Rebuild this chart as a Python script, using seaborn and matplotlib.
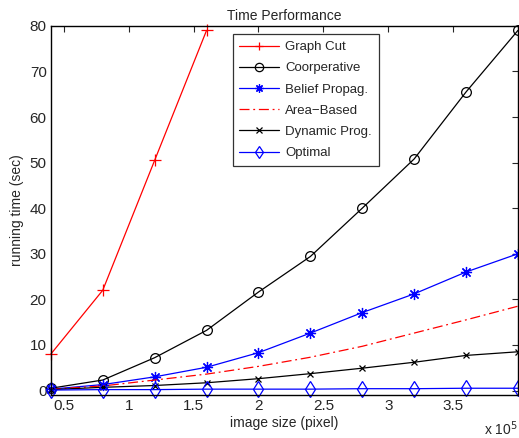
import numpy as np
import pandas as pd
import matplotlib
matplotlib.use("Agg")
import matplotlib.pyplot as plt
import seaborn as sns

# image size (x 10^5 pixel)
size = [0.4, 0.8, 1.2, 1.6, 2.0, 2.4, 2.8, 3.2, 3.6, 4.0]
size_gc = [0.4, 0.8, 1.2, 1.6]

graph_cut = [8.0, 22.0, 50.5, 79.0]
cooperative = [0.5, 2.3, 7.2, 13.2, 21.6, 29.4, 40.0, 50.8, 65.5, 79.0]
belief = [0.3, 1.3, 3.0, 5.1, 8.3, 12.6, 17.1, 21.2, 26.0, 30.0]
area_based = [0.3, 1.0, 2.3, 3.6, 5.3, 7.3, 9.7, 12.6, 15.5, 18.5]
dynamic = [0.2, 0.7, 1.1, 1.7, 2.6, 3.7, 4.9, 6.2, 7.7, 8.5]
optimal = [0.1, 0.2, 0.2, 0.3, 0.3, 0.3, 0.4, 0.4, 0.5, 0.5]

sns.set_style("white")
plt.rcParams['font.family'] = ['Liberation Sans', 'DejaVu Sans']
plt.rcParams['xtick.direction'] = 'in'
plt.rcParams['ytick.direction'] = 'in'

fig = plt.figure(figsize=(5.19, 4.38), dpi=100)
ax = fig.add_axes([0.098, 0.098, 0.900, 0.843])

asterisk = (8, 2, 0)
# label, x, y, color, marker, marker size, fill, linestyle
series = [
    ("Graph Cut", size_gc, graph_cut, "red", "+", 8, True, "-"),
    ("Coorperative", size, cooperative, "black", "o", 7, False, "-"),
    ("Belief Propag.", size, belief, "blue", asterisk, 8, True, "-"),
    ("Area\u2212Based", size, area_based, "red", "", 0, True, (0, (8, 3, 1.5, 3))),
    ("Dynamic Prog.", size, dynamic, "black", "x", 5, True, "-"),
    ("Optimal", size, optimal, "blue", "d", 8, False, "-"),
]

for label, xs, ys, col, mk, ms, fill, ls in series:
    x = np.array(xs) * 1e5
    sns.lineplot(x=x, y=ys, ax=ax, label=label, color=col, linewidth=0.9)
    ln = ax.lines[-1]
    ln.set_linestyle(ls)
    ln.set_clip_on(False)
    if mk:
        ln.set_marker(mk)
        ln.set_markersize(ms)
        ln.set_markeredgewidth(0.9)
        ln.set_markeredgecolor(col)
        ln.set_markerfacecolor(col if fill else "none")

ax.set_xlim(0.4e5, 4.0e5)
ax.set_ylim(-1, 80)
ax.set_xticks(np.arange(0.5, 4.0, 0.5) * 1e5)
ax.set_xticklabels(["0.5", "1", "1.5", "2", "2.5", "3", "3.5"])
ax.set_yticks(range(0, 81, 10))
ax.tick_params(labelsize=11, length=4, width=0.8, top=True, right=True, pad=3)
for s in ax.spines.values():
    s.set_linewidth(1.0)
    s.set_color("black")

ax.set_title("Time Performance", fontsize=10, pad=4)
ax.set_xlabel("image size (pixel)", fontsize=10, labelpad=2)
ax.set_ylabel("running time (sec)", fontsize=10, labelpad=4)
ax.text(1.0, -0.065, r"x 10$^5$", transform=ax.transAxes, ha="right", va="top", fontsize=10)

leg = ax.legend(loc="upper left", bbox_to_anchor=(0.375, 0.995), fontsize=9.5,
                frameon=True, fancybox=False, edgecolor="black",
                handlelength=3.0, handletextpad=0.5, borderpad=0.5, labelspacing=0.68)
leg.get_frame().set_linewidth(0.9)
for h, (label, xs, ys, col, mk, ms, fill, ls) in zip(leg.get_lines(), series):
    h.set_linestyle(ls)
    if mk:
        h.set_marker(mk)
        h.set_markersize(min(ms, 6))
        h.set_markeredgewidth(0.9)
        h.set_markerfacecolor(col if fill else "none")

fig.savefig("out.png", dpi=100)
